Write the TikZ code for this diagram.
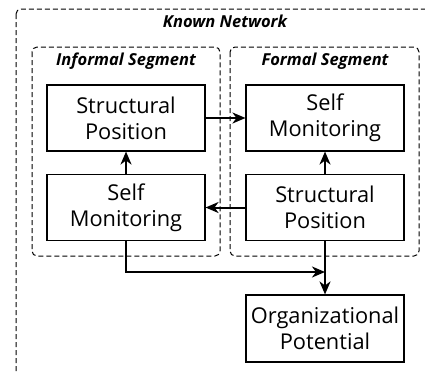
\documentclass[tikz,border=0pt]{standalone}
\usepackage{fontspec}
\setmainfont{Open Sans}
\usetikzlibrary{arrows.meta, positioning}

\tikzset{
	factor/.style = {draw, line width=1.1pt, minimum width=158pt, minimum height=66pt, inner sep=0pt, align=center, font=\fontsize{21.8}{26}\selectfont},
	segment/.style = {draw, line width=1pt, dash pattern=on 5pt off 3pt, rounded corners=5pt},
	seglabel/.style = {font=\fontsize{16.5}{20}\selectfont\bfseries\itshape},
	link/.style = {line width=2pt, -{Stealth[length=13pt, width=11pt, inset=4pt]}},
}

\begin{document}
\begin{tikzpicture}[x=1pt, y=-1pt]
			\useasboundingbox (0,0) rectangle (425,372);
			\clip (0,0) rectangle (425,372);

			% network and segments
			\draw [segment] (16,9) rectangle (445,395);
			\node [seglabel] (known) at (225,21) {Known Network};
			\draw [segment] (32,47) rectangle (220,256);
			\draw [segment] (230,47) rectangle (419,256);
			\node [seglabel] (informal) at (126,61) {Informal Segment};
			\node [seglabel] (formal) at (325,61) {Formal Segment};

			% factors
			\node [factor] (isp) at (126,118) {Structural\\Position};
			\node [factor] (fsm) at (325,118) {Self\\Monitoring};
			\node [factor] (ism) at (126,207.5) {Self\\Monitoring};
			\node [factor] (fsp) at (325,207.5) {Structural\\Position};
			\node [factor, minimum height=67pt] (op) at (325,328.5) {Organizational\\Potential};
			\coordinate (join) at (325,272);

			\draw [link] (isp) -- (fsm);
			\draw [link] (ism) -- (isp);
			\draw [link] (fsp) -- (fsm);
			\draw [link] (fsp) -- (ism);
			\draw [link] (fsp) -- (op);
			\draw [link] (ism) |- (join);
		\end{tikzpicture}
\end{document}
